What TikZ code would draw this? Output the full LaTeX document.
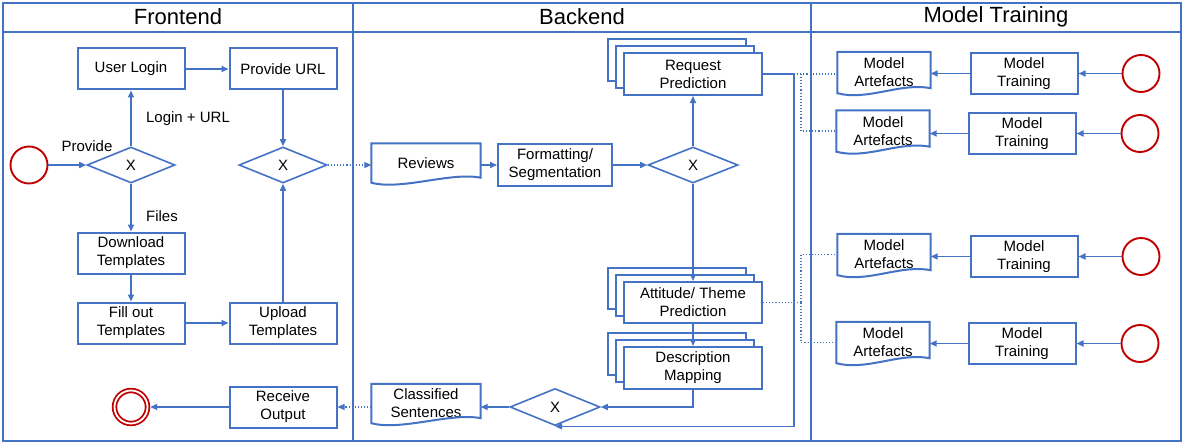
\documentclass[tikz,border=0pt]{standalone}
\usepackage{fontspec}
\setmainfont{Liberation Sans}
\usepackage{tikz}
\usetikzlibrary{arrows.meta,shapes.geometric,shadows}

\definecolor{bpmnblue}{HTML}{4472C4}
\definecolor{eventred}{HTML}{C00000}

\tikzset{
  every node/.style={font=\fontsize{15}{18}\selectfont, text=black},
  task/.style={draw=bpmnblue, line width=2pt, fill=white, minimum width=107pt, minimum height=41pt, inner sep=0pt, align=center},
  stacked/.style={task, minimum width=138pt, minimum height=42pt,
    copy shadow={shadow xshift=-16pt, shadow yshift=14pt, draw=bpmnblue, fill=white, line width=2pt},
    copy shadow={shadow xshift=-8pt, shadow yshift=7pt, draw=bpmnblue, fill=white, line width=2pt}},
  docbox/.style={minimum width=109pt, minimum height=39pt, inner sep=0pt, align=center},
  gateway/.style={diamond, draw=bpmnblue, line width=1.6pt, aspect=2.4, minimum width=88pt, minimum height=36pt, inner sep=0pt},
  startev/.style={circle, draw=eventred, line width=1.9pt, minimum size=37pt, inner sep=0pt},
  endev/.style={circle, draw=eventred, line width=1.8pt, double=white, double distance=1.8pt, minimum size=33pt, inner sep=0pt, outer sep=2.7pt},
  flow/.style={draw=bpmnblue, line width=1.6pt, -{Triangle[length=7pt,width=6pt]}},
  assoc/.style={draw=bpmnblue, line width=1.1pt, dotted},
  msgflow/.style={assoc, -{Triangle[length=7pt,width=6pt]}},
  laneline/.style={draw=bpmnblue, line width=1.4pt},
  lanetitle/.style={font=\fontsize{22}{26}\selectfont},
  docline/.style={draw=bpmnblue, line width=2pt}
}

% data object outline with wavy bottom
\newcommand{\docshape}[1]{%
  \draw[docline] (#1.south west) -- (#1.north west) -- (#1.north east) -- ([yshift=5pt]#1.south east)
    .. controls +(-30pt,6pt) and +(30pt,-8pt) .. (#1.south west) -- cycle;}

\begin{document}
\begin{tikzpicture}[x=1pt, y=-1pt]
    \useasboundingbox (0,0) rectangle (1184,444);

    % lanes
    \draw[laneline] (3,3) rectangle (1181,441);
    \draw[laneline] (3,32) -- (1181,32);
    \draw[laneline] (353,3) -- (353,441);
    \draw[laneline] (811,3) -- (811,441);
    \node[lanetitle] (titlefront) at (178,17) {Frontend};
    \node[lanetitle] (titleback) at (582,17) {Backend};
    \node[lanetitle] (titlemodel) at (996,17) {Model Training};

    % Frontend
    \node[startev] (startfront) at (29,165) {};
    \node[gateway] (gwlogin) at (131,165) {X};
    \node[task] (login) at (131,69) {User Login};
    \node[task] (url) at (283,69) {Provide URL};
    \node[gateway] (gwupload) at (283,165) {X};
    \node[task] (download) at (131,253) {Download\\Templates};
    \node[task] (fillout) at (131,323) {Fill out\\Templates};
    \node[task] (upload) at (283,323) {Upload\\Templates};
    \node[task] (receive) at (283,407) {Receive\\Output};
    \node[endev] (endfront) at (131,407) {};

    \node (lblprovide) at (87,146) {Provide};
    \node (lbllogin) at (188,119) {Login + URL};
    \node (lblfiles) at (162,216) {Files};

    \draw[flow] (startfront) -- (gwlogin);
    \draw[flow] (gwlogin) -- (login);
    \draw[flow] (login) -- (url);
    \draw[flow] (url) -- (gwupload);
    \draw[flow] (gwlogin) -- (download);
    \draw[flow] (download) -- (fillout);
    \draw[flow] (fillout) -- (upload);
    \draw[flow] (upload) -- (gwupload);
    \draw[flow] (receive) -- (endfront);

    % Backend
    \node[docbox] (reviews) at (426,163) {Reviews};
    \docshape{reviews}
    \node[task, minimum width=114pt, minimum height=42pt] (format) at (555,165) {Formatting/\\Segmentation};
    \node[gateway, minimum width=90pt] (gwpredict) at (693,165) {X};
    \node[stacked] (request) at (693,74) {Request\\Prediction};
    \node[stacked, minimum height=41pt] (attitude) at (693,302.5) {Attitude/ Theme\\Prediction};
    \node[stacked] (mapping) at (693,368) {Description\\Mapping};
    \node[gateway, minimum width=90pt, minimum height=37pt] (gwmerge) at (555,407) {X};
    \node[docbox] (classified) at (426,403.5) {Classified\\Sentences};
    \docshape{classified}

    \draw[msgflow] (gwupload.east) -- (gwupload.east -| reviews.west);
    \draw[flow] (format.west -| reviews.east) -- (format.west);
    \draw[flow] (format) -- (gwpredict);
    \draw[flow] (gwpredict) -- (request);
    \draw[flow] (gwpredict) -- (attitude);
    \draw[flow] (attitude) -- (mapping);
    \draw[flow] (mapping.south) |- (gwmerge.east);
    \draw[flow] (request.east) -- ++(31pt,0) |- (gwmerge.south);
    \draw[flow] (gwmerge.west) -- (gwmerge.west -| classified.east);
    \draw[msgflow] (receive.east -| classified.west) -- (receive.east);

    % Model Training
    \node[docbox, minimum width=93pt, minimum height=41pt] (artone) at (884,72.5) {Model\\Artefacts};
    \docshape{artone}
    \node[task] (trainone) at (1024,73.5) {Model\\Training};
    \node[startev] (startone) at (1141,73.5) {};

    \node[docbox, minimum width=93pt, minimum height=41pt] (arttwo) at (883,131) {Model\\Artefacts};
    \docshape{arttwo}
    \node[task] (traintwo) at (1022,133.5) {Model\\Training};
    \node[startev] (starttwo) at (1140,133.5) {};

    \node[docbox, minimum width=93pt, minimum height=41pt] (artthree) at (884,254.5) {Model\\Artefacts};
    \docshape{artthree}
    \node[task] (trainthree) at (1024,256.5) {Model\\Training};
    \node[startev] (startthree) at (1141,256.5) {};

    \node[docbox, minimum width=93pt, minimum height=41pt] (artfour) at (883,342.5) {Model\\Artefacts};
    \docshape{artfour}
    \node[task] (trainfour) at (1022,343.5) {Model\\Training};
    \node[startev] (startfour) at (1140,343.5) {};

    \draw[flow] (startone) -- (trainone);
    \draw[flow] (trainone.west) -- (trainone.west -| artone.east);
    \draw[flow] (starttwo) -- (traintwo);
    \draw[flow] (traintwo.west) -- (traintwo.west -| arttwo.east);
    \draw[flow] (startthree) -- (trainthree);
    \draw[flow] (trainthree.west) -- (trainthree.west -| artthree.east);
    \draw[flow] (startfour) -- (trainfour);
    \draw[flow] (trainfour.west) -- (trainfour.west -| artfour.east);

    % model artefact associations
    \coordinate (reqjoin) at ([xshift=38pt]request.east);
    \coordinate (attjoin) at ([xshift=38pt]attitude.east);
    \draw[assoc] (request.east) -- (request.east -| artone.west);
    \draw[assoc] (reqjoin) |- (arttwo.west);
    \draw[assoc] (attitude.east) -- (attjoin);
    \draw[assoc] (attjoin) |- (artthree.west);
    \draw[assoc] (attjoin) |- (artfour.west);
\end{tikzpicture}
\end{document}
